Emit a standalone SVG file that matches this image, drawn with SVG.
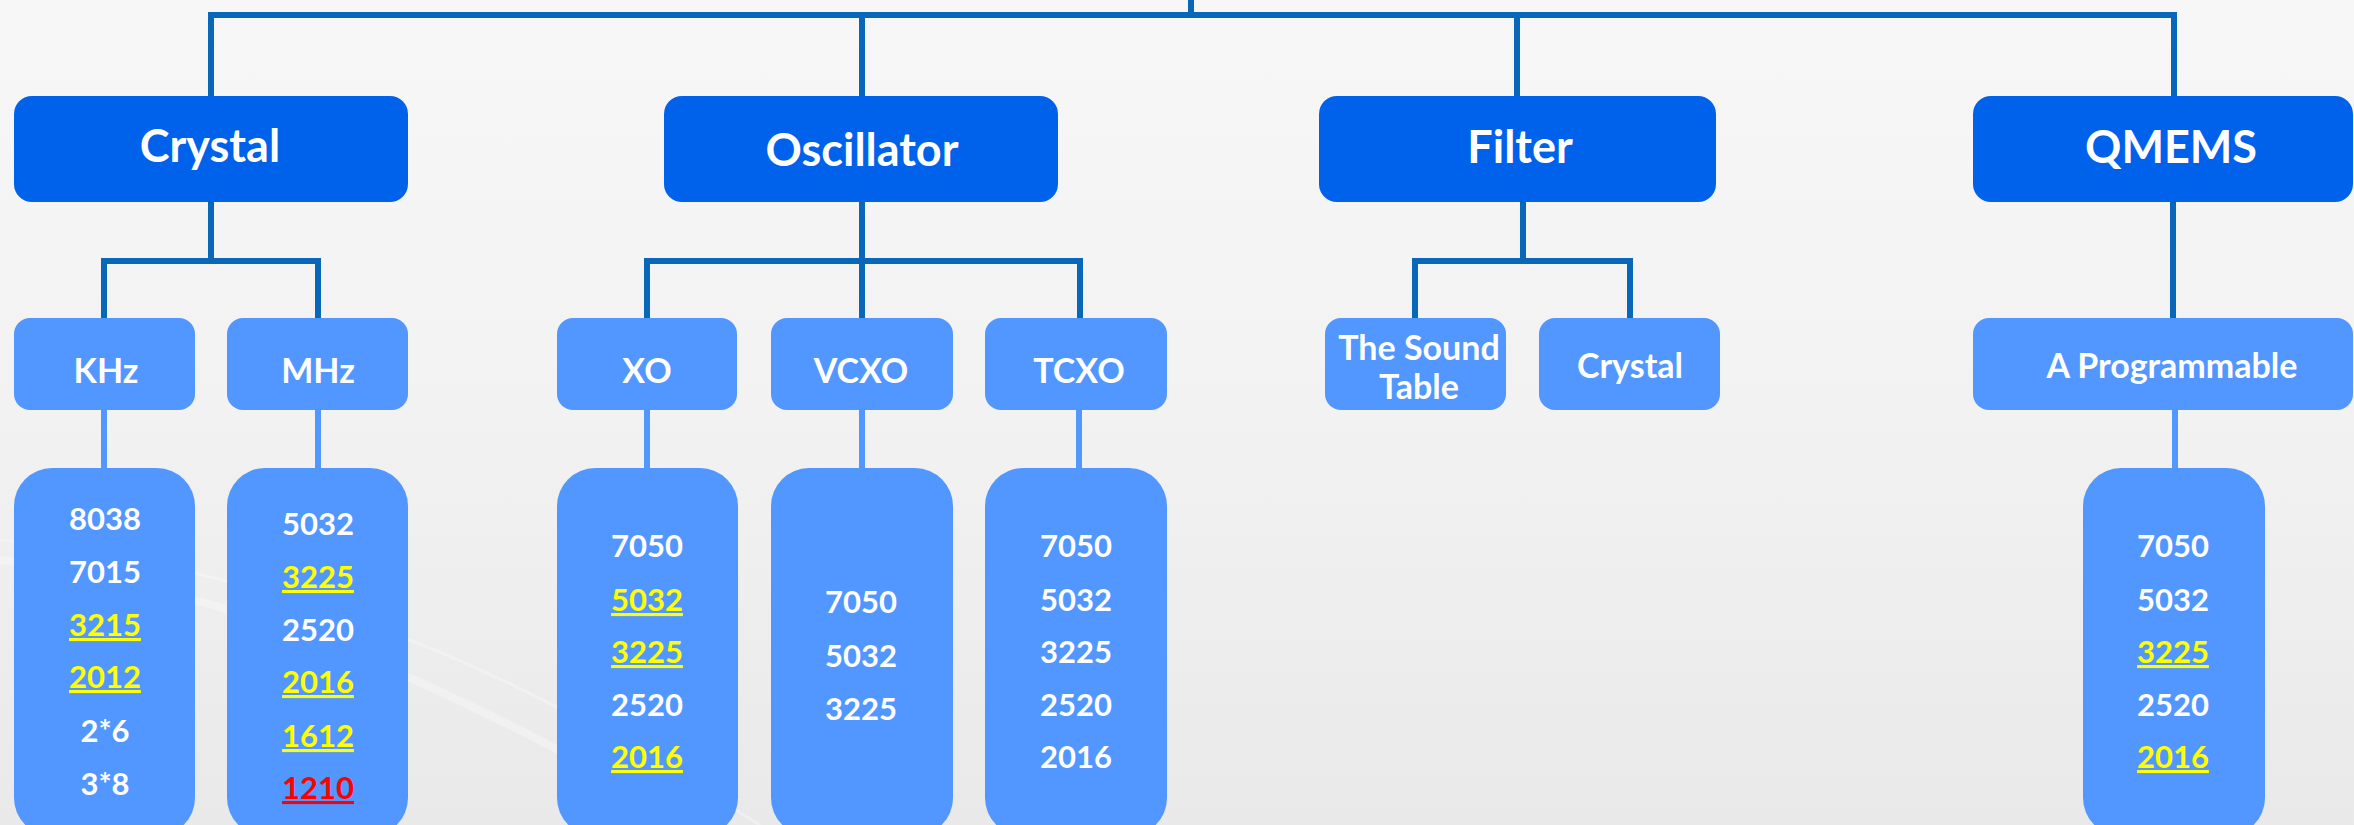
<svg xmlns="http://www.w3.org/2000/svg" width="2354" height="825" viewBox="0 0 2354 825">
<defs>
<linearGradient id="bg" x1="0" y1="0" x2="0" y2="1">
<stop offset="0" stop-color="#f7f7f7"/>
<stop offset="0.5" stop-color="#f2f2f2"/>
<stop offset="1" stop-color="#e9e9e9"/>
</linearGradient>
<style>
.l1{fill:#0061eb}
.l2{fill:#5297ff}
.c{stroke:#0867b8;stroke-width:6;fill:none}
.c2{stroke:#5297ff;stroke-width:6;fill:none}
text{font-family:Lato,"Open Sans","Liberation Sans",sans-serif;font-weight:700;text-anchor:middle;fill:#ffffff}
.t1{font-size:45px}
.t2{font-size:34px}
.t3{font-size:31px}
.y{fill:#ffff00;text-decoration:underline}
.r{fill:#ff0000;text-decoration:underline}
</style>
</defs>
<rect x="0" y="0" width="2354" height="825" fill="url(#bg)"/>
<g opacity="0.3" fill="none" stroke="#ffffff">
<path d="M0 560 C300 600 500 720 700 825" stroke-width="8"/>
<path d="M0 540 C350 580 560 700 760 825" stroke-width="3"/>
</g>

<g id="connectors">
<path class="c" d="M1191 0 V15 M211 96 V15 H2174 V96 M862 15 V96 M1517 15 V96"/>
<path class="c" d="M211 202 V261 M104 318 V261 H318 V318"/>
<path class="c" d="M862 202 V318 M647 318 V261 H1080 V318"/>
<path class="c" d="M1523 202 V261 M1415 318 V261 H1630 V318"/>
<path class="c" d="M2173 202 V318"/>
<path class="c2" d="M104 410 V468 M318 410 V468 M647 410 V468 M862 410 V468 M1079 410 V468 M2175 410 V468"/>
</g>

<g id="crystal"><rect class="l1" x="14" y="96" width="394" height="106" rx="18"/><text class="t1" x="210" y="162">Crystal</text></g>
<g id="oscillator"><rect class="l1" x="664" y="96" width="394" height="106" rx="18"/><text class="t1" x="862" y="166">Oscillator</text></g>
<g id="filter"><rect class="l1" x="1319" y="96" width="397" height="106" rx="18"/><text class="t1" x="1520" y="163">Filter</text></g>
<g id="qmems"><rect class="l1" x="1973" y="96" width="380" height="106" rx="18"/><text class="t1" x="2171" y="163">QMEMS</text></g>

<g id="khz"><rect class="l2" x="14" y="318" width="181" height="92" rx="16"/><text class="t2" x="106" y="383">KHz</text></g>
<g id="mhz"><rect class="l2" x="227" y="318" width="181" height="92" rx="16"/><text class="t2" x="318" y="383">MHz</text></g>
<g id="xo"><rect class="l2" x="557" y="318" width="180" height="92" rx="16"/><text class="t2" x="647" y="383">XO</text></g>
<g id="vcxo"><rect class="l2" x="771" y="318" width="182" height="92" rx="16"/><text class="t2" x="861" y="383">VCXO</text></g>
<g id="tcxo"><rect class="l2" x="985" y="318" width="182" height="92" rx="16"/><text class="t2" x="1079" y="383">TCXO</text></g>
<g id="sound-table"><rect class="l2" x="1325" y="318" width="181" height="92" rx="16"/><text class="t2" x="1419" y="360">The Sound</text><text class="t2" x="1419" y="399">Table</text></g>
<g id="filter-crystal"><rect class="l2" x="1539" y="318" width="181" height="92" rx="16"/><text class="t2" x="1630" y="378">Crystal</text></g>
<g id="programmable"><rect class="l2" x="1973" y="318" width="380" height="92" rx="16"/><text class="t2" x="2172" y="378">A Programmable</text></g>

<g id="khz-list"><rect class="l2" x="14" y="468" width="181" height="368" rx="38"/>
<text class="t3" x="105" y="530">8038</text>
<text class="t3" x="105" y="583">7015</text>
<text class="t3 y" x="105" y="636">3215</text>
<text class="t3 y" x="105" y="688">2012</text>
<text class="t3" x="105" y="742">2*6</text>
<text class="t3" x="105" y="795">3*8</text></g>

<g id="mhz-list"><rect class="l2" x="227" y="468" width="181" height="368" rx="38"/>
<text class="t3" x="318" y="535">5032</text>
<text class="t3 y" x="318" y="588">3225</text>
<text class="t3" x="318" y="641">2520</text>
<text class="t3 y" x="318" y="693">2016</text>
<text class="t3 y" x="318" y="747">1612</text>
<text class="t3 r" x="318" y="799">1210</text></g>

<g id="xo-list"><rect class="l2" x="557" y="468" width="181" height="368" rx="38"/>
<text class="t3" x="647" y="557">7050</text>
<text class="t3 y" x="647" y="611">5032</text>
<text class="t3 y" x="647" y="663">3225</text>
<text class="t3" x="647" y="716">2520</text>
<text class="t3 y" x="647" y="768">2016</text></g>

<g id="vcxo-list"><rect class="l2" x="771" y="468" width="182" height="368" rx="38"/>
<text class="t3" x="861" y="613">7050</text>
<text class="t3" x="861" y="667">5032</text>
<text class="t3" x="861" y="720">3225</text></g>

<g id="tcxo-list"><rect class="l2" x="985" y="468" width="182" height="368" rx="38"/>
<text class="t3" x="1076" y="557">7050</text>
<text class="t3" x="1076" y="611">5032</text>
<text class="t3" x="1076" y="663">3225</text>
<text class="t3" x="1076" y="716">2520</text>
<text class="t3" x="1076" y="768">2016</text></g>

<g id="qmems-list"><rect class="l2" x="2083" y="468" width="182" height="368" rx="38"/>
<text class="t3" x="2173" y="557">7050</text>
<text class="t3" x="2173" y="611">5032</text>
<text class="t3 y" x="2173" y="663">3225</text>
<text class="t3" x="2173" y="716">2520</text>
<text class="t3 y" x="2173" y="768">2016</text></g>
</svg>
